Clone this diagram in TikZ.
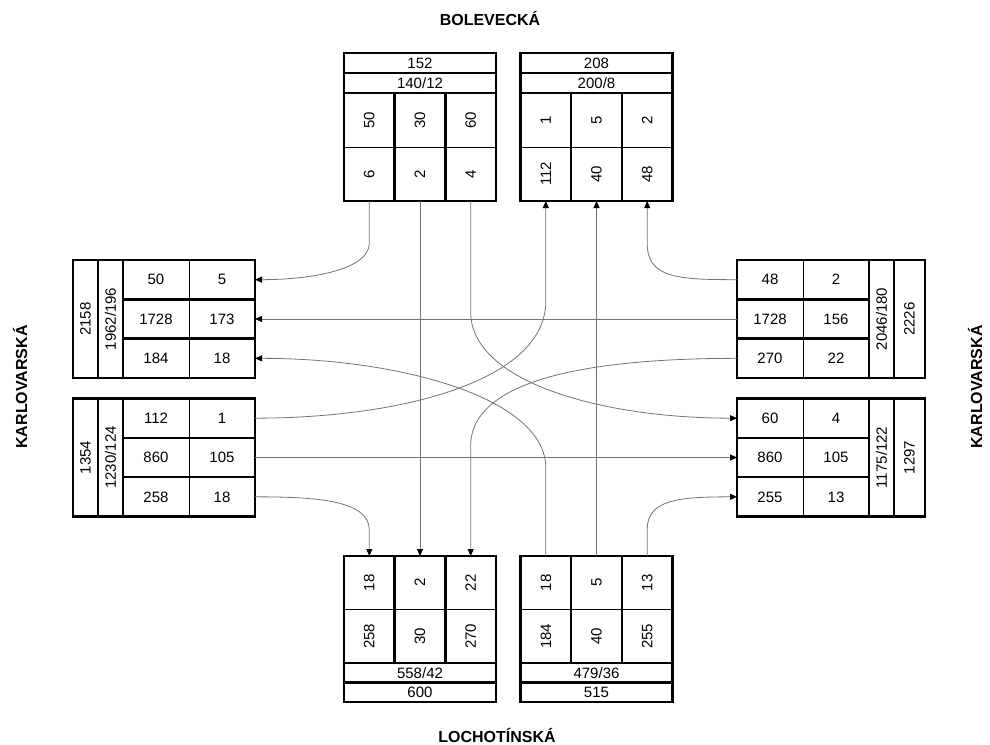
\documentclass[tikz,border=0pt]{standalone}
\usepackage{fontspec}
\setmainfont{Liberation Sans}
\usetikzlibrary{arrows.meta,calc}
\tikzset{
  cell/.style={draw, line width=0.8pt, inner sep=0pt, outer sep=0pt, font=\fontsize{15}{17}\selectfont},
  frame/.style={draw, line width=2.5pt},
  conn/.style={draw=black!55, line width=0.8pt, -{Triangle[length=7pt,width=6pt,color=black]}},
  street/.style={font=\fontsize{16}{18}\selectfont\bfseries}
}
% box with headers on top, three vertical columns
\newcommand\upbox[9]{%
  \node[cell,minimum width=152pt,minimum height=20pt] (#1-t) at (76,10) {#2};
  \node[cell,minimum width=152pt,minimum height=20pt] (#1-s) at (76,30) {#3};
  \node[cell,minimum width=50.67pt,minimum height=54pt] (#1-1a) at (25.33,67) {\rotatebox{90}{#4}};
  \node[cell,minimum width=50.67pt,minimum height=54pt] (#1-1b) at (25.33,121) {\rotatebox{90}{#5}};
  \node[cell,minimum width=50.67pt,minimum height=54pt] (#1-2a) at (76,67) {\rotatebox{90}{#6}};
  \node[cell,minimum width=50.67pt,minimum height=54pt] (#1-2b) at (76,121) {\rotatebox{90}{#7}};
  \node[cell,minimum width=50.67pt,minimum height=54pt] (#1-3a) at (126.67,67) {\rotatebox{90}{#8}};
  \node[cell,minimum width=50.67pt,minimum height=54pt] (#1-3b) at (126.67,121) {\rotatebox{90}{#9}};
  \draw[frame] (#1-t.north west) rectangle (#1-t.south east);
  \draw[frame] (#1-s.north west) rectangle (#1-s.south east);
  \draw[frame] (#1-1a.north west) rectangle (#1-1b.south east);
  \draw[frame] (#1-2a.north west) rectangle (#1-2b.south east);
  \draw[frame] (#1-3a.north west) rectangle (#1-3b.south east);
}
% box with headers at the bottom
\newcommand\downbox[9]{%
  \node[cell,minimum width=50.67pt,minimum height=53.5pt] (#1-1a) at (25.33,26.75) {\rotatebox{90}{#4}};
  \node[cell,minimum width=50.67pt,minimum height=53.5pt] (#1-1b) at (25.33,80.25) {\rotatebox{90}{#5}};
  \node[cell,minimum width=50.67pt,minimum height=53.5pt] (#1-2a) at (76,26.75) {\rotatebox{90}{#6}};
  \node[cell,minimum width=50.67pt,minimum height=53.5pt] (#1-2b) at (76,80.25) {\rotatebox{90}{#7}};
  \node[cell,minimum width=50.67pt,minimum height=53.5pt] (#1-3a) at (126.67,26.75) {\rotatebox{90}{#8}};
  \node[cell,minimum width=50.67pt,minimum height=53.5pt] (#1-3b) at (126.67,80.25) {\rotatebox{90}{#9}};
  \node[cell,minimum width=152pt,minimum height=19.5pt] (#1-s) at (76,116.75) {#3};
  \node[cell,minimum width=152pt,minimum height=19.5pt] (#1-t) at (76,136.25) {#2};
  \draw[frame] (#1-t.north west) rectangle (#1-t.south east);
  \draw[frame] (#1-s.north west) rectangle (#1-s.south east);
  \draw[frame] (#1-1a.north west) rectangle (#1-1b.south east);
  \draw[frame] (#1-2a.north west) rectangle (#1-2b.south east);
  \draw[frame] (#1-3a.north west) rectangle (#1-3b.south east);
}
% box with totals on the left, three rows
\newcommand\leftbox[9]{%
  \node[cell,minimum width=25pt,minimum height=118pt] (#1-t) at (12.5,59) {\rotatebox{90}{#2}};
  \node[cell,minimum width=25pt,minimum height=118pt] (#1-s) at (37.5,59) {\rotatebox{90}{#3}};
  \node[cell,minimum width=66pt,minimum height=39.33pt] (#1-1a) at (83,19.67) {#4};
  \node[cell,minimum width=66pt,minimum height=39.33pt] (#1-1b) at (149,19.67) {#5};
  \node[cell,minimum width=66pt,minimum height=39.33pt] (#1-2a) at (83,59) {#6};
  \node[cell,minimum width=66pt,minimum height=39.33pt] (#1-2b) at (149,59) {#7};
  \node[cell,minimum width=66pt,minimum height=39.33pt] (#1-3a) at (83,98.33) {#8};
  \node[cell,minimum width=66pt,minimum height=39.33pt] (#1-3b) at (149,98.33) {#9};
  \draw[frame] (#1-t.north west) rectangle (#1-t.south east);
  \draw[frame] (#1-s.north west) rectangle (#1-s.south east);
  \draw[frame] (#1-1a.north west) rectangle (#1-1b.south east);
  \draw[frame] (#1-2a.north west) rectangle (#1-2b.south east);
  \draw[frame] (#1-3a.north west) rectangle (#1-3b.south east);
}
% box with totals on the right
\newcommand\rightbox[9]{%
  \node[cell,minimum width=66pt,minimum height=39.33pt] (#1-1a) at (33,19.67) {#4};
  \node[cell,minimum width=66pt,minimum height=39.33pt] (#1-1b) at (99,19.67) {#5};
  \node[cell,minimum width=66pt,minimum height=39.33pt] (#1-2a) at (33,59) {#6};
  \node[cell,minimum width=66pt,minimum height=39.33pt] (#1-2b) at (99,59) {#7};
  \node[cell,minimum width=66pt,minimum height=39.33pt] (#1-3a) at (33,98.33) {#8};
  \node[cell,minimum width=66pt,minimum height=39.33pt] (#1-3b) at (99,98.33) {#9};
  \node[cell,minimum width=25pt,minimum height=118pt] (#1-s) at (144.5,59) {\rotatebox{90}{#3}};
  \node[cell,minimum width=31pt,minimum height=118pt] (#1-t) at (172.5,59) {\rotatebox{90}{#2}};
  \draw[frame] (#1-t.north west) rectangle (#1-t.south east);
  \draw[frame] (#1-s.north west) rectangle (#1-s.south east);
  \draw[frame] (#1-1a.north west) rectangle (#1-1b.south east);
  \draw[frame] (#1-2a.north west) rectangle (#1-2b.south east);
  \draw[frame] (#1-3a.north west) rectangle (#1-3b.south east);
}
\begin{document}
\begin{tikzpicture}[x=1pt,y=-1pt]
\useasboundingbox (0,0) rectangle (990,744);
\fill[white] (0,0) rectangle (990,744);

\node[street] (north) at (490,18) {BOLEVECKÁ};
\node[street] (south) at (497,735) {LOCHOTÍNSKÁ};
\node[street,rotate=90] (west) at (20,387) {KARLOVARSKÁ};
\node[street,rotate=90] (east) at (975,387) {KARLOVARSKÁ};

\begin{scope}[shift={(344,53)}]\upbox{TL}{152}{140/12}{50}{6}{30}{2}{60}{4}\end{scope}
\begin{scope}[shift={(520.5,53)}]\upbox{TR}{208}{200/8}{1}{112}{5}{40}{2}{48}\end{scope}
\begin{scope}[shift={(344,556)}]\downbox{BL}{600}{558/42}{18}{258}{2}{30}{22}{270}\end{scope}
\begin{scope}[shift={(520.5,556)}]\downbox{BR}{515}{479/36}{18}{184}{5}{40}{13}{255}\end{scope}
\begin{scope}[shift={(73,260)}]\leftbox{LT}{2158}{1962/196}{50}{5}{1728}{173}{184}{18}\end{scope}
\begin{scope}[shift={(73,398.5)}]\leftbox{LB}{1354}{1230/124}{112}{1}{860}{105}{258}{18}\end{scope}
\begin{scope}[shift={(737,260)}]\rightbox{RT}{2226}{2046/180}{48}{2}{1728}{156}{270}{22}\end{scope}
\begin{scope}[shift={(737,398.5)}]\rightbox{RB}{1297}{1175/122}{60}{4}{860}{105}{255}{13}\end{scope}

% connectors
\draw[conn] (TL-1b.south) -- ++(0,42) .. controls +(0,27) and +(55,0) .. (LT-1b.east);
\draw[conn] (TL-2b.south) -- (BL-2a.north);
\draw[conn] (TL-3b.south) -- ++(0,111) .. controls +(0,70) and +(-135,0) .. (RB-1a.west);
\draw[conn] (RT-2a.west) -- (LT-2b.east);
\draw[conn] (LB-3b.east) .. controls +(60,0) and +(0,-30) .. ($(BL-1a.north)+(0,-26)$) -- (BL-1a.north);
\draw[conn] (BR-1a.north) -- ++(0,-88) .. controls +(0,-70) and +(145,0) .. (LT-3b.east);
\draw[conn] (LB-1b.east) .. controls +(146,0) and +(0,80) .. ($(TR-1b.south)+(0,100)$) -- (TR-1b.south);
\draw[conn] (BR-2a.north) -- (TR-2b.south);
\draw[conn] (RT-1a.west) .. controls +(-60,0) and +(0,35) .. ($(TR-3b.south)+(0,42)$) -- (TR-3b.south);
\draw[conn] (RT-3a.west) .. controls +(-135,0) and +(0,-70) .. ($(BL-3a.north)+(0,-110)$) -- (BL-3a.north);
\draw[conn] (LB-2b.east) -- (RB-2a.west);
\draw[conn] (BR-3a.north) -- ++(0,-26) .. controls +(0,-30) and +(-60,0) .. (RB-3a.west);
\end{tikzpicture}
\end{document}
